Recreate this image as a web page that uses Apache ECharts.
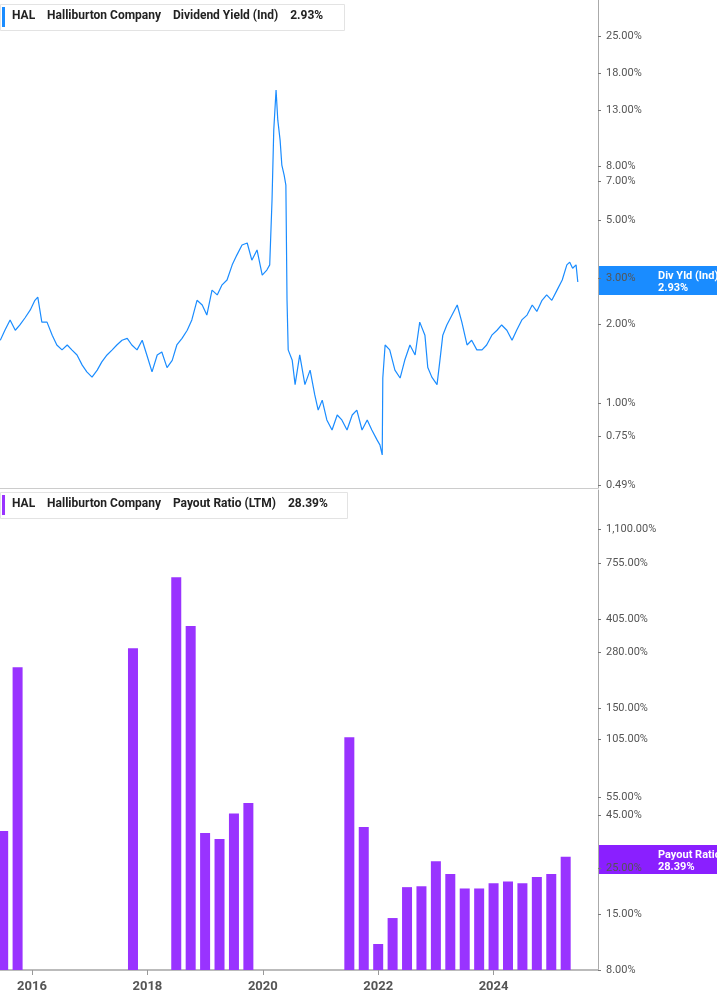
<!DOCTYPE html>
<html><head><meta charset="utf-8">
<script src="https://cdn.jsdelivr.net/npm/echarts@6/dist/echarts.min.js"></script>
<style>html,body{margin:0;padding:0;background:#fff}#c{width:717px;height:1005px}</style>
</head><body><div id="c"></div>
<script>
const yieldYears=[2015.45,2015.53,2015.62,2015.71,2015.79,2015.88,2015.97,2016.05,2016.10,2016.17,2016.26,2016.35,2016.43,2016.52,2016.61,2016.69,2016.78,2016.87,2016.95,2017.04,2017.13,2017.21,2017.30,2017.39,2017.47,2017.56,2017.65,2017.73,2017.82,2017.91,2017.99,2018.08,2018.17,2018.25,2018.34,2018.43,2018.51,2018.60,2018.69,2018.77,2018.86,2018.95,2019.03,2019.12,2019.21,2019.29,2019.38,2019.47,2019.55,2019.64,2019.73,2019.81,2019.90,2019.99,2020.07,2020.12,2020.16,2020.19,2020.23,2020.26,2020.30,2020.33,2020.37,2020.40,2020.42,2020.44,2020.51,2020.56,2020.64,2020.73,2020.82,2020.90,2020.96,2021.03,2021.11,2021.20,2021.29,2021.37,2021.46,2021.55,2021.63,2021.72,2021.81,2021.89,2021.98,2022.03,2022.07,2022.08,2022.12,2022.20,2022.29,2022.38,2022.46,2022.55,2022.64,2022.72,2022.81,2022.86,2022.93,2023.02,2023.07,2023.12,2023.19,2023.28,2023.37,2023.45,2023.54,2023.62,2023.71,2023.80,2023.88,2023.97,2024.06,2024.14,2024.23,2024.32,2024.40,2024.49,2024.58,2024.67,2024.75,2024.84,2024.92,2025.01,2025.10,2025.19,2025.27,2025.32,2025.37,2025.43,2025.46];
const yieldVals=[1.74,1.90,2.08,1.90,1.99,2.12,2.27,2.47,2.54,2.04,2.04,1.82,1.67,1.60,1.67,1.60,1.53,1.40,1.32,1.26,1.34,1.44,1.53,1.60,1.67,1.74,1.77,1.67,1.60,1.74,1.53,1.32,1.53,1.57,1.37,1.46,1.67,1.77,1.90,2.08,2.47,2.37,2.17,2.70,2.59,2.82,2.95,3.37,3.67,4.01,4.08,3.51,3.84,3.08,3.22,3.37,5.95,10.97,15.6,11.97,10.05,8.08,7.40,6.78,2.47,1.60,1.46,1.18,1.53,1.18,1.34,1.08,0.944,1.03,0.866,0.793,0.904,0.866,0.793,0.904,0.944,0.793,0.866,0.793,0.727,0.696,0.637,1.25,1.67,1.60,1.34,1.25,1.46,1.67,1.53,2.04,1.82,1.37,1.26,1.18,1.46,1.82,1.99,2.17,2.37,2.04,1.67,1.74,1.60,1.60,1.67,1.82,1.90,1.99,1.90,1.74,1.90,2.08,2.17,2.37,2.24,2.47,2.59,2.47,2.70,2.95,3.37,3.45,3.27,3.37,2.90];
const payoutYears=[2015.50,2015.75,2017.75,2018.50,2018.75,2019.00,2019.25,2019.50,2019.75,2021.50,2021.75,2022.00,2022.25,2022.50,2022.75,2023.00,2023.25,2023.50,2023.75,2024.00,2024.25,2024.50,2024.75,2025.00,2025.25];
const payoutVals=[37.8,236,292,646,374,37,34.6,46,51.7,108,39.6,10.7,14.3,20.2,20.4,27,23.4,19.9,19.9,21.1,21.5,21.1,22.6,23.4,28.39];
const xTicks=[2016,2018,2020,2022,2024];
const yieldTicks=[0.49,0.75,1,2,3,5,7,8,13,18,25];
const payoutTicks=[8,15,25,45,55,105,150,280,405,755,1100];

const fmtPct=v=>v.toLocaleString('en-US',{minimumFractionDigits:2,maximumFractionDigits:2})+'%';
const F='Roboto, "Liberation Sans", sans-serif';
const chart=echarts.init(document.getElementById('c'));
const xBase={type:'value',min:2015.445,max:2025.81};
chart.setOption({
 animation:false,
 grid:[{left:0,right:119,top:0,height:488},{left:0,right:119,top:490,height:480}],
 xAxis:[
  Object.assign({gridIndex:0,axisLine:{show:true,lineStyle:{color:'#ccc'}},axisTick:{show:false},axisLabel:{show:false},splitLine:{show:false}},xBase),
  Object.assign({gridIndex:1,axisLine:{show:true,lineStyle:{color:'#bbb',width:2}},axisTick:{show:true,customValues:xTicks,length:5,lineStyle:{color:'#999'}},
   axisLabel:{customValues:xTicks,formatter:v=>String(v),color:'#555',fontWeight:'bold',fontSize:13,fontFamily:F,margin:10},splitLine:{show:false}},xBase)
 ],
 yAxis:[
  {gridIndex:0,type:'log',position:'right',min:0.477,max:34.3,axisLine:{show:true,lineStyle:{color:'#aaa'}},
   axisTick:{show:true,customValues:yieldTicks,length:3,lineStyle:{color:'#777'}},splitLine:{show:false},
   axisLabel:{customValues:yieldTicks,formatter:fmtPct,color:'#555',fontSize:11,fontFamily:F,margin:8}},
  {gridIndex:1,type:'log',position:'right',min:8,max:1712,axisLine:{show:true,lineStyle:{color:'#aaa'}},
   axisTick:{show:true,customValues:payoutTicks,length:3,lineStyle:{color:'#777'}},splitLine:{show:false},
   axisLabel:{customValues:payoutTicks,formatter:fmtPct,color:'#555',fontSize:11,fontFamily:F,margin:8}}
 ],
 series:[
  {type:'line',xAxisIndex:0,yAxisIndex:0,data:yieldYears.map((x,i)=>[x,yieldVals[i]]),showSymbol:false,lineStyle:{color:'#1a8cff',width:1.2}},
  {type:'bar',xAxisIndex:1,yAxisIndex:1,data:payoutYears.map((x,i)=>[x,payoutVals[i]]),barWidth:10,itemStyle:{color:'#9933ff'}}
 ],
 graphic:[
  {type:'rect',left:0,top:4,shape:{width:344,height:26},style:{fill:'#fff',stroke:'#e3e3e3'}},
  {type:'rect',left:2,top:7,shape:{width:3,height:20},style:{fill:'#1a8cff'}},
  {type:'text',left:12,top:10,style:{text:'HAL    Halliburton Company    Dividend Yield (Ind)    2.93%',font:'bold 12px '+F,fill:'#222'}},
  {type:'rect',left:0,top:492,shape:{width:347,height:26},style:{fill:'#fff',stroke:'#e3e3e3'}},
  {type:'rect',left:2,top:495,shape:{width:3,height:20},style:{fill:'#9933ff'}},
  {type:'text',left:12,top:498,style:{text:'HAL    Halliburton Company    Payout Ratio (LTM)    28.39%',font:'bold 12px '+F,fill:'#222'}},
  {type:'rect',left:599,top:266,shape:{width:118,height:29},style:{fill:'#1a8cff'}},
  {type:'text',left:658,top:270,style:{text:'Div Yld (Ind)\n2.93%',font:'bold 11px '+F,fill:'#fff',align:'center',lineHeight:12}},
  {type:'rect',left:599,top:845,shape:{width:118,height:29},style:{fill:'#8a1fff'}},
  {type:'text',left:658,top:849,style:{text:'Payout Ratio (LTM)\n28.39%',font:'bold 11px '+F,fill:'#fff',align:'center',lineHeight:12}}
 ]
});
</script></body></html>
